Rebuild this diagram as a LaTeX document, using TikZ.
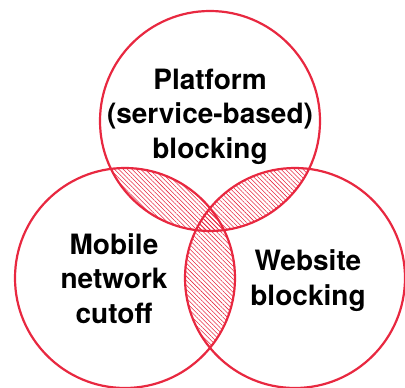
\documentclass[tikz,border=0pt]{standalone}
\usepackage{fontspec}
\setmainfont{TeX Gyre Heros}
\usetikzlibrary{patterns.meta}
\definecolor{vred}{RGB}{232,40,64}
\begin{document}
\begin{tikzpicture}[x=1pt,y=-1pt,
  ring/.style={draw=vred,line width=2.2pt},
  hatch/.style={pattern={Lines[angle=-45,distance=3.1pt,line width=0.55pt]},pattern color=vred},
  lbl/.style={font=\fontsize{28}{34.5}\selectfont\bfseries,align=center,inner sep=0pt,anchor=base}]
\useasboundingbox (0,0) rectangle (405,388);
\coordinate (T) at (210,121);
\coordinate (L) at (125,278);
\coordinate (R) at (295,278);
\def\rad{110}
\begin{scope}
  \clip (T) circle (\rad);
  \fill[hatch] (L) circle (\rad);
  \fill[hatch] (R) circle (\rad);
\end{scope}
\begin{scope}
  \clip (L) circle (\rad);
  \fill[hatch] (R) circle (\rad);
\end{scope}
\draw[ring] (T) circle (\rad);
\draw[ring] (L) circle (\rad);
\draw[ring] (R) circle (\rad);
\node[lbl] (tp) at (210,158) {Platform\\(service-based)\\blocking};
\node[lbl] (lm) at (114,323) {Mobile\\network\\cutoff};
\node[lbl] (rw) at (308,305) {Website\\blocking};
\end{tikzpicture}
\end{document}
